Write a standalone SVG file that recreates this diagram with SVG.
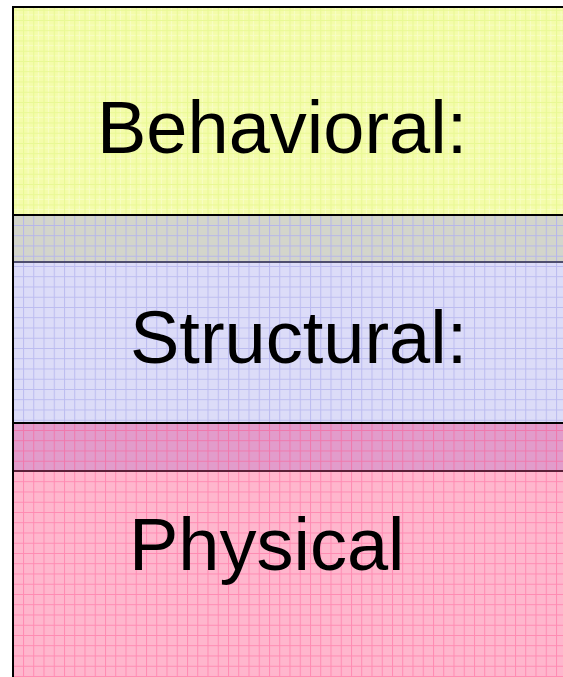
<svg xmlns="http://www.w3.org/2000/svg" width="563" height="677" viewBox="0 0 563 677">
  <defs>
    <!-- graph-paper textures for each layer -->
    <pattern id="gridYellow" patternUnits="userSpaceOnUse" x="2.5" y="9.75" width="10.25" height="10.25">
      <rect width="10.25" height="10.25" fill="#f4fcaa"/>
      <path d="M0 5.1H10.25M5.1 0V10.25" stroke="#f8fdc4" stroke-width="1"/>
      <path d="M0 0.5H10.25M0.5 0V10.25" stroke="#e8f894" stroke-width="1"/>
    </pattern>
    <pattern id="gridGrey" patternUnits="userSpaceOnUse" x="2.5" y="9.75" width="10.25" height="10.25">
      <rect width="10.25" height="10.25" fill="#d3d5cb"/>
      <path d="M0 0.5H10.25M0.5 0V10.25" stroke="#b6b6ea" stroke-width="1"/>
    </pattern>
    <pattern id="gridBlue" patternUnits="userSpaceOnUse" x="2.5" y="9.75" width="10.25" height="10.25">
      <rect width="10.25" height="10.25" fill="#dcdcf8"/>
      <path d="M0 0.5H10.25M0.5 0V10.25" stroke="#bcbcf0" stroke-width="1"/>
    </pattern>
    <pattern id="gridMagenta" patternUnits="userSpaceOnUse" x="2.5" y="9.75" width="10.25" height="10.25">
      <rect width="10.25" height="10.25" fill="#e29ccb"/>
      <path d="M0 0.5H10.25M0.5 0V10.25" stroke="#f078ac" stroke-width="1"/>
    </pattern>
    <pattern id="gridPink" patternUnits="userSpaceOnUse" x="2.5" y="9.75" width="10.25" height="10.25">
      <rect width="10.25" height="10.25" fill="#ffb6cd"/>
      <path d="M0 0.5H10.25M0.5 0V10.25" stroke="#ff8ab2" stroke-width="1"/>
    </pattern>
  </defs>
  <style>
    .label { font-family: "Liberation Sans", Arial, sans-serif; font-size: 74px; fill: #000000; }
  </style>

  <rect width="563" height="677" fill="#ffffff"/>

  <g id="behavioral">
    <rect x="13" y="7" width="550" height="208" fill="url(#gridYellow)"/>
    <text class="label" x="97" y="153">Behavioral:</text>
  </g>

  <g id="behavioral-structural-gap">
    <rect x="13" y="215" width="550" height="47" fill="url(#gridGrey)"/>
  </g>

  <g id="structural">
    <rect x="13" y="262" width="550" height="161" fill="url(#gridBlue)"/>
    <text class="label" x="130" y="363">Structural:</text>
  </g>

  <g id="structural-physical-gap">
    <rect x="13" y="423" width="550" height="47" fill="url(#gridMagenta)"/>
  </g>

  <g id="physical">
    <rect x="13" y="470" width="550" height="207" fill="url(#gridPink)"/>
    <text class="label" x="129" y="570">Physical</text>
  </g>

  <!-- dividers and frame -->
  <g id="frame">
    <path d="M13 215H563" stroke="#000000" stroke-width="2"/>
    <path d="M13 262H563" stroke="#4e4e6e" stroke-width="2"/>
    <path d="M13 423H563" stroke="#000000" stroke-width="2"/>
    <path d="M13 471H563" stroke="#5a2038" stroke-width="2"/>
    <path d="M13 7H563" stroke="#000000" stroke-width="2"/>
    <path d="M13 6V677" stroke="#000000" stroke-width="2"/>
  </g>
</svg>
